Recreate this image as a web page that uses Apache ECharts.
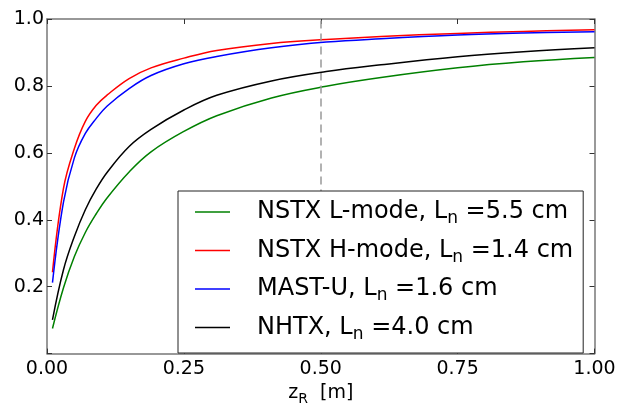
<!DOCTYPE html>
<html>
<head>
<meta charset="utf-8">
<script src="https://cdn.jsdelivr.net/npm/echarts@6/dist/echarts.min.js"></script>
<style>
html,body{margin:0;padding:0;background:#fff;}
#chart{width:621px;height:411px;}
</style>
</head>
<body>
<div id="chart"></div>
<script>
// x positions (z_R in m)
const zR = [0.01,0.03,0.05,0.07,0.09,0.11,0.15,0.19,0.25,0.31,0.41,0.51,0.61,0.75,0.87,1.00];
// series values
const nstxL = [0.075,0.196,0.290,0.362,0.418,0.466,0.543,0.603,0.664,0.711,0.764,0.799,0.825,0.854,0.872,0.885];
const nstxH = [0.243,0.493,0.613,0.694,0.742,0.773,0.822,0.854,0.883,0.906,0.927,0.939,0.948,0.957,0.963,0.968];
const mastU = [0.212,0.452,0.585,0.658,0.703,0.740,0.792,0.831,0.866,0.888,0.914,0.931,0.941,0.952,0.958,0.962];
const nhtx  = [0.101,0.250,0.350,0.430,0.492,0.542,0.619,0.670,0.728,0.772,0.815,0.843,0.863,0.887,0.902,0.914];
const seriesNames = ['NSTX L-mode, Ln =5.5 cm','NSTX H-mode, Ln =1.4 cm','MAST-U, Ln =1.6 cm','NHTX, Ln =4.0 cm'];
const seriesColors = ['#008000','#ff0000','#0000ff','#000000'];
const xTicks = [0,0.25,0.5,0.75,1];
const yTicks = [0.2,0.4,0.6,0.8,1.0];
const markX = 0.5;

const allValues = [nstxL,nstxH,mastU,nhtx];
const FONT = 'DejaVu Sans';

const chart = echarts.init(document.getElementById('chart'), null, {renderer:'canvas'});

const series = allValues.map((vals,i)=>({
  name: seriesNames[i],
  type:'line',
  data: zR.map((z,j)=>[z,vals[j]]),
  showSymbol:false,
  smooth:0.4,
  lineStyle:{color:seriesColors[i],width:1.5},
  itemStyle:{color:seriesColors[i]},
  z: 2+i
}));
series[3].markLine = {
  silent:true,
  symbol:['none','none'],
  label:{show:false},
  lineStyle:{color:'#999999',width:1.5,type:[8,5]},
  data:[{xAxis:markX}]
};

const axisLineStyle = {color:'#777777',width:1.5};
const tickStyle = {color:'#333333',width:1};

const option = {
  animation:false,
  backgroundColor:'#ffffff',
  grid:{left:47,right:26.5,top:19,bottom:46.5,containLabel:false},
  xAxis:[{
    type:'value',min:0,max:1,interval:0.25,position:'bottom',
    axisLine:{show:true,onZero:false,lineStyle:axisLineStyle},
    axisTick:{show:true,inside:true,length:5,lineStyle:tickStyle},
    axisLabel:{fontFamily:FONT,fontSize:19,color:'#000',margin:6,
      formatter:v=>xTicks.includes(v)?v.toFixed(2):''},
    splitLine:{show:false},
    name:'z{r|R}  [m]',nameLocation:'middle',nameGap:14,
    nameTextStyle:{fontFamily:FONT,fontSize:19,color:'#000',
      rich:{r:{fontFamily:FONT,fontSize:14,color:'#000',padding:[12,0,0,0]}}}
  },{
    type:'value',min:0,max:1,interval:0.25,position:'top',
    axisLine:{show:true,onZero:false,lineStyle:axisLineStyle},
    axisTick:{show:true,inside:true,length:5,lineStyle:tickStyle},
    axisLabel:{show:false},splitLine:{show:false}
  }],
  yAxis:[{
    type:'value',min:0,max:1,interval:0.2,position:'left',
    axisLine:{show:true,onZero:false,lineStyle:axisLineStyle},
    axisTick:{show:true,inside:true,length:5,lineStyle:tickStyle},
    axisLabel:{fontFamily:FONT,fontSize:19,color:'#000',margin:3,
      formatter:v=>{const t=yTicks.find(y=>Math.abs(y-v)<1e-9);return t!==undefined?t.toFixed(1):'';}},
    splitLine:{show:false}
  },{
    type:'value',min:0,max:1,interval:0.2,position:'right',
    axisLine:{show:true,onZero:false,lineStyle:axisLineStyle},
    axisTick:{show:true,inside:true,length:5,lineStyle:tickStyle},
    axisLabel:{show:false},splitLine:{show:false}
  }],
  legend:{
    data:seriesNames,
    orient:'vertical',
    left:178,top:191,
    backgroundColor:'#ffffff',
    borderColor:'#222222',borderWidth:1,borderRadius:0,
    padding:[9,10,10,17],
    itemWidth:35,itemHeight:1.5,itemGap:11,
    icon:'rect',
    textStyle:{fontFamily:FONT,fontSize:24,color:'#000',padding:[0,0,0,22],
      rich:{n:{fontFamily:FONT,fontSize:17,color:'#000',padding:[14,0,0,0]}}},
    formatter:name=>name.replace('Ln','L{n|n}'),
    z:10
  },
  series:series
};
chart.setOption(option);
</script>
</body>
</html>
